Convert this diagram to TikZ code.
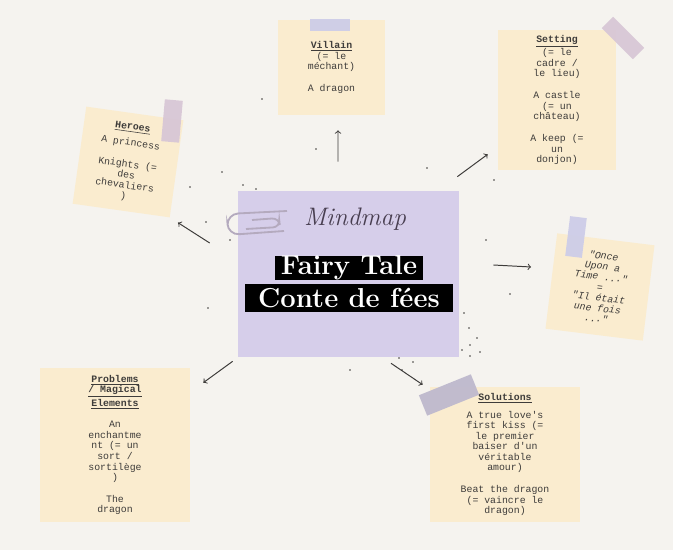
\documentclass[tikz,border=0pt]{standalone}
\usepackage{fontspec}
\usepackage{tikz}
\usetikzlibrary{shapes,arrows,positioning,calc}
\usepackage{xcolor}
\newfontfamily\notefont{Liberation Mono}
\definecolor{paper}{RGB}{245,243,239}
\definecolor{notecream}{RGB}{250,236,207}
\definecolor{lilac}{RGB}{214,206,234}
\definecolor{tapepink}{RGB}{216,199,214}
\definecolor{tapeblue}{RGB}{205,205,232}
\definecolor{tapegray}{RGB}{190,185,205}
\definecolor{inkgray}{RGB}{62,60,58}
\definecolor{clipgray}{RGB}{180,170,190}
\definecolor{scriptink}{RGB}{72,62,80}

\begin{document}
\begin{tikzpicture}[
    x=0.025cm, y=-0.025cm,
    note/.style={rectangle, fill=notecream, align=center, inner sep=0pt, text=inkgray,
        font=\notefont\fontsize{7}{7.5}\selectfont},
    tape/.style={rectangle, fill=#1, inner sep=0pt, opacity=0.95},
    titlebar/.style={rectangle, fill=black, text=white, inner sep=0pt,
        font=\bfseries\fontsize{19.5}{19.5}\selectfont},
    arr/.style={->, draw=inkgray, line width=0.7pt}
]
    \useasboundingbox (0,0) rectangle (673,550);
    \fill[paper] (0,0) rectangle (673,550);

    % Centre card
    \node[rectangle, fill=lilac, minimum width=5.525cm, minimum height=4.15cm] (c) at (348.5,274) {};
    \node[titlebar, minimum width=3.7cm, minimum height=0.6cm] (fairy) at (349,268) {Fairy Tale};
    \node[titlebar, minimum width=5.175cm, minimum height=0.7cm, below=0.08cm of fairy] (conte) {Conte de fées};
    \node[text=scriptink, font=\itshape\fontsize{18}{18}\selectfont, above=0.5cm of fairy, xshift=0.15cm] (mind) {Mindmap};

    % Paper clip
    \draw[clipgray, line width=1.3pt, rounded corners=8] (287,211) -- (227,214) -- (228,235) -- (284,231);
    \draw[clipgray, line width=1.3pt, rounded corners=5] (252,220) -- (279,218) -- (280,227) -- (246,229);

    % Notes
    \node[note, minimum width=2.45cm, minimum height=2.45cm, rotate=-8] (h) at (128,162)
        {\underline{\textbf{Heroes}}\\[4pt] A princess\\[8pt] Knights (=\\ des\\ chevaliers\\ )};
    \node[note, minimum width=2.675cm, minimum height=2.375cm] (v) at (331.5,67.5)
        {\underline{\textbf{Villain}}\\ (= le\\ méchant)\\[8pt] A dragon};
    \node[note, minimum width=2.95cm, minimum height=3.5cm] (s) at (557,100)
        {\underline{\textbf{Setting}}\\ (= le\\ cadre /\\ le lieu)\\[8pt] A castle\\ (= un\\ château)\\[8pt] A keep (=\\ un\\ donjon)};
    \node[note, minimum width=2.45cm, minimum height=2.4cm, rotate=-7, font=\notefont\itshape\fontsize{7}{7.5}\selectfont] (o) at (600,287)
        {"Once\\ Upon a\\ Time ..."\\ =\\ "Il était\\ une fois\\ ..."};
    \node[note, minimum width=3.75cm, minimum height=3.85cm] (p) at (115,445)
        {\underline{\textbf{Problems}}\\ \underline{\textbf{/ Magical}}\\ \underline{\textbf{Elements}}\\[8pt] An\\ enchantme\\ nt (= un\\ sort /\\ sortilège\\ )\\[8pt] The\\ dragon};
    \node[note, minimum width=3.75cm, minimum height=3.375cm] (sol) at (505,454.5)
        {\underline{\textbf{Solutions}}\\[5pt] A true love's\\ first kiss (=\\ le premier\\ baiser d'un\\ véritable\\ amour)\\[8pt] Beat the dragon\\ (= vaincre le\\ dragon)};

    % Tapes
    \node[tape=tapepink, minimum width=0.45cm, minimum height=1.05cm, rotate=-5] (th) at (172,121) {};
    \node[tape=tapeblue, minimum width=1cm, minimum height=0.28cm] (tv) at (330,25) {};
    \node[tape=tapepink, minimum width=0.4cm, minimum height=1.1cm, rotate=45] (ts) at (623,38) {};
    \node[tape=tapeblue, minimum width=0.42cm, minimum height=1cm, rotate=-7] (to) at (576,237) {};
    \node[tape=tapegray, minimum width=1.4cm, minimum height=0.55cm, rotate=22] (tsol) at (449,395) {};

    % Specks
    \foreach \px/\py in {190/187, 243/185, 256/189, 222/172, 316/149, 262/99, 206/222,
        230/240, 486/240, 510/294, 464/313, 469/328, 477/338, 470/345, 462/350,
        470/356, 480/352, 402/370, 413/362, 399/358, 350/370, 208/308, 427/168, 494/180}
        \fill[inkgray] (\px,\py) circle (0.7pt);

    % Arrows
    \draw[arr] ([shift={(-10.5,-29)}]c.north) -- ([shift={(6.5,15)}]v.south);
    \draw[arr] ([shift={(-2,-14)}]c.north east) -- ([shift={(-10,-16)}]s.south west);
    \draw[arr] ([shift={(34,-9)}]c.east) -- ([shift={(-20,-14)}]o.west);
    \draw[arr] ([shift={(-28,-31)}]c.west) -- ([shift={(8,5)}]h.south east);
    \draw[arr] ([shift={(-5,4)}]c.south west) -- ([shift={(13,15)}]p.north east);
    \draw[arr] ([shift={(42.5,6)}]c.south) -- ([shift={(-7,-2)}]sol.north west);
\end{tikzpicture}
\end{document}
